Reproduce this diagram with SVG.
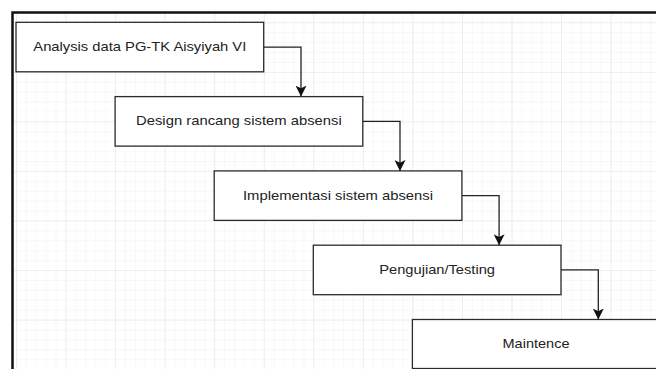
<svg xmlns="http://www.w3.org/2000/svg" width="656" height="369" viewBox="0 0 656 369">
  <style>
    .box { fill: #ffffff; stroke: #2b2b2b; stroke-width: 1.3; }
    .lbl { font-family: "Liberation Sans", Arial, sans-serif; font-size: 13.5px; fill: #222222; text-anchor: middle; }
    .conn { fill: none; stroke: #222222; stroke-width: 1.3; }
  </style>
  <defs>
    <pattern id="minor" patternUnits="userSpaceOnUse" x="16" y="22.3" width="9.91" height="9.91">
      <path d="M0,0 H9.91 M0,0 V9.91" fill="none" stroke="#f1f1f1" stroke-width="1"/>
    </pattern>
    <pattern id="major" patternUnits="userSpaceOnUse" x="16" y="22.3" width="49.55" height="49.55">
      <path d="M0,0 H49.55 M0,0 V49.55" fill="none" stroke="#e3e3e3" stroke-width="1"/>
    </pattern>
    <marker id="arrow" markerUnits="userSpaceOnUse" markerWidth="11" markerHeight="11" viewBox="0 0 10 10" refX="10" refY="5" orient="auto">
      <path d="M0,0 L10,5 L0,10 L2.5,5 Z" fill="#111111"/>
    </marker>
  </defs>

  <rect x="0" y="0" width="656" height="369" fill="#ffffff"/>
  <g id="canvas">
    <rect x="13" y="13" width="643" height="356" fill="#ffffff"/>
    <rect x="13" y="13" width="643" height="356" fill="url(#minor)"/>
    <rect x="13" y="13" width="643" height="356" fill="url(#major)"/>
    <path d="M12.5,369 V12.5 H656" fill="none" stroke="#111111" stroke-width="2.5"/>
  </g>

  <g id="connectors">
    <path class="conn" d="M263.7,47.05 H301 V96.6" marker-end="url(#arrow)"/>
    <path class="conn" d="M362.8,121.35 H400 V170.9" marker-end="url(#arrow)"/>
    <path class="conn" d="M461.9,195.65 H499.1 V245.2" marker-end="url(#arrow)"/>
    <path class="conn" d="M561,269.95 H598.3 V319.5" marker-end="url(#arrow)"/>
  </g>

  <g id="node-analysis">
    <rect class="box" x="16" y="22.3" width="247.7" height="49.5"/>
    <text class="lbl" x="139.8" y="51" textLength="213" lengthAdjust="spacingAndGlyphs">Analysis data PG-TK Aisyiyah VI</text>
  </g>
  <g id="node-design">
    <rect class="box" x="115.1" y="96.6" width="247.7" height="49.5"/>
    <text class="lbl" x="238.9" y="125.4" textLength="205.7" lengthAdjust="spacingAndGlyphs">Design rancang sistem absensi</text>
  </g>
  <g id="node-implementasi">
    <rect class="box" x="214.2" y="170.9" width="247.7" height="49.5"/>
    <text class="lbl" x="338" y="199.7" textLength="190" lengthAdjust="spacingAndGlyphs">Implementasi sistem absensi</text>
  </g>
  <g id="node-pengujian">
    <rect class="box" x="313.3" y="245.2" width="247.7" height="49.5"/>
    <text class="lbl" x="437.1" y="274" textLength="115.7" lengthAdjust="spacingAndGlyphs">Pengujian/Testing</text>
  </g>
  <g id="node-maintence">
    <rect class="box" x="412.4" y="319.5" width="247.7" height="49"/>
    <text class="lbl" x="536" y="348.3" textLength="67" lengthAdjust="spacingAndGlyphs">Maintence</text>
  </g>
</svg>
